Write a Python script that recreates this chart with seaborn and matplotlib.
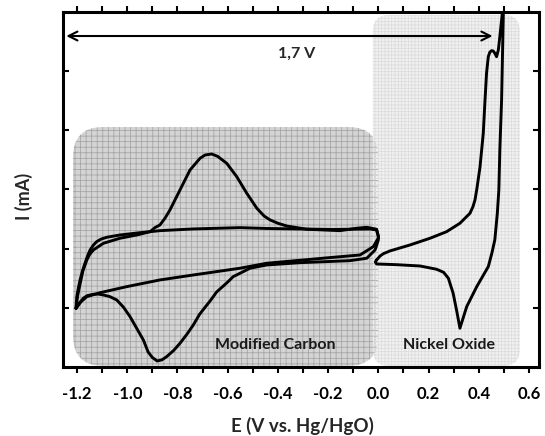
import os
import matplotlib
matplotlib.use("Agg")
import matplotlib.pyplot as plt
import seaborn as sns
from matplotlib import font_manager
from matplotlib.font_manager import FontProperties
from matplotlib.patches import FancyBboxPatch
from matplotlib.ticker import MultipleLocator

# Modified carbon CV, cycle with the redox peaks (upper branch then lower branch)
carbon_a_E = [-1.204, -1.198, -1.188, -1.177, -1.161, -1.150, -1.135, -1.095, -1.029,
              -0.962, -0.909, -0.890, -0.870, -0.850, -0.830, -0.790, -0.750, -0.710,
              -0.690, -0.664, -0.640, -0.604, -0.564, -0.524, -0.484, -0.455, -0.431,
              -0.400, -0.365, -0.285, -0.153, -0.086, -0.046, -0.007, 0.000,
              0.000, -0.013, -0.046, -0.113, -0.312, -0.445, -0.511, -0.578, -0.604,
              -0.644, -0.670, -0.690, -0.712, -0.737, -0.763, -0.790, -0.815, -0.843,
              -0.862, -0.881, -0.900, -0.917, -0.936, -0.962, -0.989, -1.015, -1.042,
              -1.070, -1.095, -1.115, -1.135, -1.160, -1.175, -1.192, -1.204]
carbon_a_I = [-2.007, -1.800, -1.597, -1.380, -1.191, -1.100, -1.022, -0.909, -0.824,
              -0.769, -0.713, -0.645, -0.600, -0.487, -0.346, -0.008, 0.330, 0.528,
              0.583, 0.600, 0.560, 0.443, 0.217, -0.064, -0.317, -0.448, -0.515,
              -0.571, -0.617, -0.672, -0.696, -0.655, -0.639, -0.672, -0.797,
              -0.853, -1.022, -1.162, -1.203, -1.237, -1.276, -1.331, -1.473, -1.580,
              -1.732, -1.884, -1.990, -2.110, -2.290, -2.450, -2.599, -2.720, -2.825,
              -2.880, -2.898, -2.840, -2.746, -2.543, -2.350, -2.149, -1.990, -1.867,
              -1.810, -1.783, -1.768, -1.771, -1.795, -1.838, -1.930, -2.007]

# Modified carbon CV, capacitive cycle
carbon_b_E = [-1.204, -1.201, -1.195, -1.188, -1.178, -1.168, -1.158, -1.148, -1.135,
              -1.122, -1.105, -1.082, -1.029, -0.949, -0.870, -0.738, -0.551, -0.445,
              -0.181, -0.033, -0.007, 0.000,
              0.000, -0.020, -0.073, -0.179, -0.445, -0.551, -0.737, -0.870, -1.002,
              -1.108, -1.161, -1.185, -1.204]
carbon_b_I = [-2.007, -1.811, -1.670, -1.529, -1.370, -1.242, -1.120, -1.022, -0.940,
              -0.882, -0.840, -0.808, -0.769, -0.730, -0.696, -0.667, -0.645, -0.659,
              -0.676, -0.667, -0.684, -0.786,
              -0.819, -0.966, -1.107, -1.146, -1.247, -1.331, -1.445, -1.529, -1.642,
              -1.744, -1.811, -1.900, -2.007]

# Nickel oxide CV
nickel_E = [-0.007, 0.007, 0.020, 0.046, 0.126, 0.206, 0.272, 0.325, 0.365, 0.377,
            0.385, 0.393, 0.405, 0.418, 0.425, 0.431, 0.438, 0.444, 0.451, 0.458,
            0.464, 0.471, 0.478, 0.484, 0.491, 0.496, 0.500,
            0.498, 0.491, 0.484, 0.480, 0.474, 0.464, 0.452, 0.438, 0.392, 0.352,
            0.325, 0.314, 0.298, 0.279, 0.260, 0.232, 0.166, 0.073, -0.007, -0.012,
            -0.007]
nickel_I = [-1.191, -1.124, -1.085, -1.039, -0.938, -0.824, -0.713, -0.571, -0.402, -0.290,
            -0.177, 0.026, 0.380, 0.950, 1.513, 1.964, 2.245, 2.320, 2.346, 2.340,
            2.302, 2.245, 2.358, 2.583, 2.865, 3.068, 3.600,
            3.000, 1.513, 0.668, -0.008, -0.402, -0.853, -1.080, -1.304, -1.642, -1.980,
            -2.345, -2.092, -1.754, -1.500, -1.400, -1.348, -1.293, -1.271, -1.259, -1.225,
            -1.191]

x_ticks = [-1.2, -1.0, -0.8, -0.6, -0.4, -0.2, 0.0, 0.2, 0.4, 0.6]
x_tick_labels = ["-1.2", "-1.0", "-0.8", "-0.6", "-0.4", "-0.2", "0.0", "0.2", "0.4", "0.6"]
window_label = "1,7 V"


def bold_font_file(candidates):
    # look for a real "...-Bold.ttf" face
    files = [f.fname for f in font_manager.fontManager.ttflist]
    for fam in candidates:
        key = fam.replace(" ", "").lower()
        for path in files:
            stem = os.path.splitext(os.path.basename(path))[0].lower()
            if stem in (key + "-bold", key + "bold", key + "-bd"):
                return path
    return None


sns.set_theme(style="ticks")
plt.rcParams["font.family"] = ["Lato", "DejaVu Sans"]
plt.rcParams["hatch.linewidth"] = 0.55

bold_file = bold_font_file(["Lato", "OpenSans", "Noto Sans", "Liberation Sans", "DejaVu Sans"])


def bold(size):
    if bold_file:
        return FontProperties(fname=bold_file, size=size)
    return FontProperties(family="DejaVu Sans", weight="bold", size=size)


fig = plt.figure(figsize=(5.45, 4.36), dpi=100)
ax = fig.add_axes([0.1156, 0.1583, 0.8734, 0.8142])
ax.set_xlim(-1.256, 0.64)
ax.set_ylim(-3, 3)

# shaded regions
aspect = 4.244
regions = [
    (-1.216, -2.98, 1.216, 4.036, 0.12, "#d4d4d4", "#a4a4a4", "+++"),
    (-0.022, -2.98, 0.586, 5.93, 0.065, "#f1f1f1", "#dcdcdc", "+++++"),
]
for x0, y0, w, h, r, fc, gc, hatch in regions:
    ax.add_patch(FancyBboxPatch((x0, y0), w, h,
                                boxstyle=f"round,pad=0,rounding_size={r}",
                                mutation_aspect=aspect, facecolor=fc,
                                edgecolor="none", zorder=0.5))
    ax.add_patch(FancyBboxPatch((x0, y0), w, h,
                                boxstyle=f"round,pad=0,rounding_size={r}",
                                mutation_aspect=aspect, fill=False,
                                edgecolor=gc, linewidth=0, hatch=hatch, zorder=0.6))

curves = [(carbon_a_E, carbon_a_I), (carbon_b_E, carbon_b_I), (nickel_E, nickel_I)]
for e, i in curves:
    sns.lineplot(x=e, y=i, sort=False, estimator=None, color="black",
                 linewidth=2.1, ax=ax, zorder=3,
                 solid_joinstyle="round", solid_capstyle="round")

# potential window arrow
ax.annotate("", xy=(-1.243, 2.594), xytext=(0.455, 2.594),
            arrowprops=dict(arrowstyle="<->", color="black", lw=1.5,
                            mutation_scale=16, shrinkA=0, shrinkB=0), zorder=4)
ax.text(-0.324, 2.30, window_label, ha="center", va="center",
        fontproperties=bold(11.5))
ax.text(-0.410, -2.63, "Modified Carbon", ha="center", va="center",
        fontproperties=bold(11.5), color="#1a1a1a")
ax.text(0.281, -2.63, "Nickel Oxide", ha="center", va="center",
        fontproperties=bold(11.5), color="#1a1a1a")

ax.set_xticks(x_ticks)
ax.set_xticklabels(x_tick_labels)
for lab in ax.get_xticklabels():
    lab.set_fontproperties(bold(12))
ax.xaxis.set_minor_locator(MultipleLocator(0.1))
ax.set_yticks([-2, -1, 0, 1, 2])
ax.set_yticklabels([])
ax.tick_params(axis="x", which="both", direction="out", length=4, width=1.5,
               top=True, colors="black", pad=10)
ax.tick_params(axis="y", which="both", direction="in", length=4, width=1.5,
               right=True, colors="black")

ax.set_xlabel("E (V vs. Hg/HgO)", fontproperties=bold(13.5))
ax.set_ylabel("I (mA)", fontproperties=bold(13))
ax.xaxis.set_label_coords(0.503, -0.142)
ax.yaxis.set_label_coords(-0.064, 0.48)

for s in ax.spines.values():
    s.set_visible(True)
    s.set_color("black")
    s.set_linewidth(2.2)

fig.savefig("out.png", dpi=100)
